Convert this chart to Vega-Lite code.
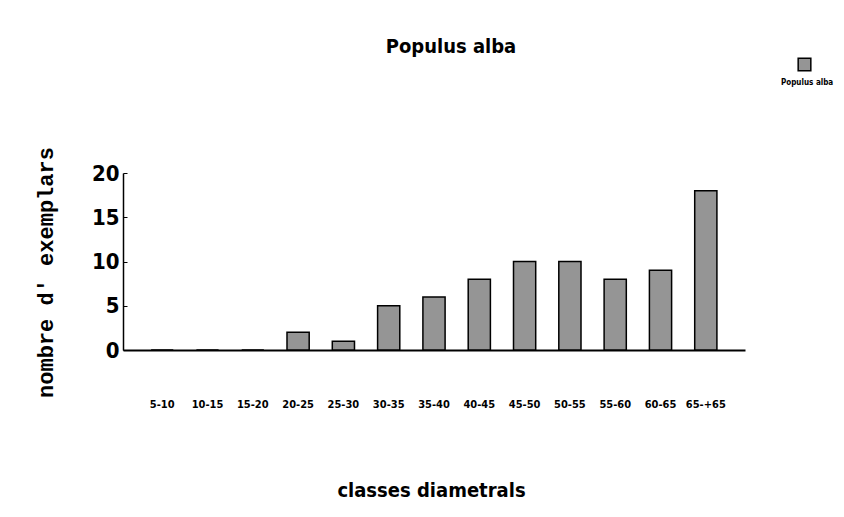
{
  "$schema": "https://vega.github.io/schema/vega-lite/v6.json",
  "width": 622,
  "height": 177,
  "autosize": {"type": "none"},
  "padding": {"left": 123, "top": 173, "right": 99, "bottom": 167},
  "background": "white",
  "config": {"view": {"stroke": null}},
  "title": {
    "text": "Populus alba",
    "font": "DejaVu Sans Condensed",
    "fontSize": 20,
    "fontWeight": "bold",
    "color": "black",
    "anchor": "middle",
    "dx": 17,
    "offset": 0
  },
  "data": {
    "values": [
      {"classe": "5-10", "n": 0, "serie": "Populus alba"},
      {"classe": "10-15", "n": 0, "serie": "Populus alba"},
      {"classe": "15-20", "n": 0, "serie": "Populus alba"},
      {"classe": "20-25", "n": 2, "serie": "Populus alba"},
      {"classe": "25-30", "n": 1, "serie": "Populus alba"},
      {"classe": "30-35", "n": 5, "serie": "Populus alba"},
      {"classe": "35-40", "n": 6, "serie": "Populus alba"},
      {"classe": "40-45", "n": 8, "serie": "Populus alba"},
      {"classe": "45-50", "n": 10, "serie": "Populus alba"},
      {"classe": "50-55", "n": 10, "serie": "Populus alba"},
      {"classe": "55-60", "n": 8, "serie": "Populus alba"},
      {"classe": "60-65", "n": 9, "serie": "Populus alba"},
      {"classe": "65-+65", "n": 18, "serie": "Populus alba"}
    ]
  },
  "mark": {"type": "bar", "stroke": "black", "strokeWidth": 1.5},
  "encoding": {
    "x": {
      "field": "classe",
      "type": "nominal",
      "sort": null,
      "scale": {"paddingInner": 0.51, "paddingOuter": 0.62},
      "axis": {
        "title": "classes diametrals",
        "titleFont": "DejaVu Sans Condensed",
        "titleFontSize": 20,
        "titleFontWeight": "bold",
        "titleColor": "black",
        "titleX": 308,
        "titleY": 140,
        "titleBaseline": "middle",
        "labelAngle": 0,
        "labelFont": "DejaVu Sans Condensed",
        "labelFontSize": 11,
        "labelFontWeight": "bold",
        "labelColor": "black",
        "labelPadding": 48,
        "ticks": false,
        "domainColor": "black",
        "domainWidth": 2
      }
    },
    "y": {
      "field": "n",
      "type": "quantitative",
      "scale": {"domain": [0, 20], "nice": false},
      "axis": {
        "values": [0, 5, 10, 15, 20],
        "grid": false,
        "title": "nombre d' exemplars",
        "titleFont": "Liberation Mono",
        "titleFontSize": 22,
        "titleFontWeight": "bold",
        "titleColor": "black",
        "titleX": -78,
        "titleY": 99,
        "titleAngle": -90,
        "titleAlign": "center",
        "titleBaseline": "middle",
        "labelFont": "DejaVu Sans Condensed",
        "labelFontSize": 22,
        "labelFontWeight": "bold",
        "labelColor": "black",
        "labelPadding": 8,
        "tickSize": -4,
        "tickColor": "black",
        "domainColor": "black",
        "domainWidth": 1.5
      }
    },
    "fill": {
      "field": "serie",
      "type": "nominal",
      "scale": {"range": ["#959595"]},
      "legend": {
        "orient": "none",
        "legendX": 658,
        "legendY": -116,
        "title": "Populus alba",
        "titleOrient": "bottom",
        "titleAnchor": "start",
        "titleFont": "DejaVu Sans Condensed",
        "titleFontSize": 8,
        "titleFontWeight": "bold",
        "titleColor": "black",
        "labelExpr": "''",
        "labelOffset": 0,
        "symbolType": "square",
        "symbolSize": 160,
        "symbolOffset": 16,
        "symbolStrokeColor": "black",
        "symbolStrokeWidth": 1.5
      }
    }
  }
}
